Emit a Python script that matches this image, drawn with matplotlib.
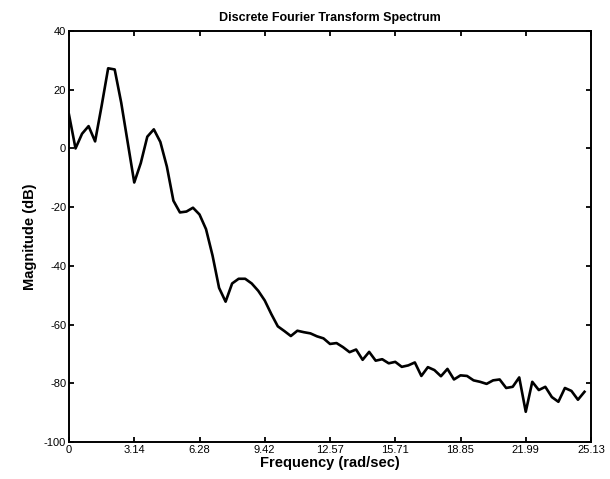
import numpy as np
import matplotlib
matplotlib.use("Agg")
import matplotlib.pyplot as plt

plt.rcParams['font.family'] = ['Liberation Sans', 'DejaVu Sans']
plt.rcParams['axes.unicode_minus'] = False

# Magnitude (dB) of the DFT at frequency bins spaced pi/10 rad/sec apart
freq_step = np.pi / 10
magnitude_db = [
    11.5, 0.0, 5.0, 7.6, 2.4, 14.5, 27.3, 26.9, 15.6, 2.0,
    -11.6, -5.0, 4.0, 6.5, 2.2, -6.2, -17.8, -21.8, -21.5, -20.2,
    -22.5, -27.5, -36.5, -47.5, -52.2, -46.0, -44.4, -44.4, -46.0, -48.5,
    -51.8, -56.4, -60.6, -62.2, -63.9, -62.1, -62.6, -63.0, -64.0, -64.7,
    -66.6, -66.3, -67.7, -69.4, -68.5, -72.0, -69.3, -72.3, -71.8, -73.2,
    -72.7, -74.4, -73.9, -72.9, -77.5, -74.5, -75.5, -77.6, -75.1, -78.7,
    -77.3, -77.5, -79.0, -79.5, -80.2, -79.0, -78.7, -81.6, -81.2, -78.0,
    -89.7, -79.5, -82.3, -81.2, -84.7, -86.3, -81.6, -82.6, -85.6, -82.9,
]
freq = np.arange(len(magnitude_db)) * freq_step

xtick_vals = [k * np.pi for k in range(9)]
xtick_labels = ["0", "3.14", "6.28", "9.42", "12.57", "15.71", "18.85", "21.99", "25.13"]
ytick_vals = [-100, -80, -60, -40, -20, 0, 20, 40]

fig = plt.figure(figsize=(6.10, 4.79), dpi=100)
ax = fig.add_axes([69/610, 37/479, 522/610, 411/479])
ax.plot(freq, magnitude_db, color='black', linewidth=1.9)

ax.set_xlim(0, 8*np.pi)
ax.set_ylim(-100, 40)
ax.set_xticks(xtick_vals)
ax.set_xticklabels(xtick_labels)
ax.set_yticks(ytick_vals)
ax.tick_params(direction='in', top=True, right=True, length=3.5, width=1.3,
               labelsize=8, pad=2)
for s in ax.spines.values():
    s.set_linewidth(1.4)

ax.set_title("Discrete Fourier Transform Spectrum", fontsize=9, fontweight='bold', pad=7)
ax.set_xlabel("Frequency (rad/sec)", fontsize=10.5, fontweight='bold', labelpad=1)
ax.set_ylabel("Magnitude (dB)", fontsize=10.5, fontweight='bold', labelpad=5)

fig.savefig("out.png", dpi=100)
